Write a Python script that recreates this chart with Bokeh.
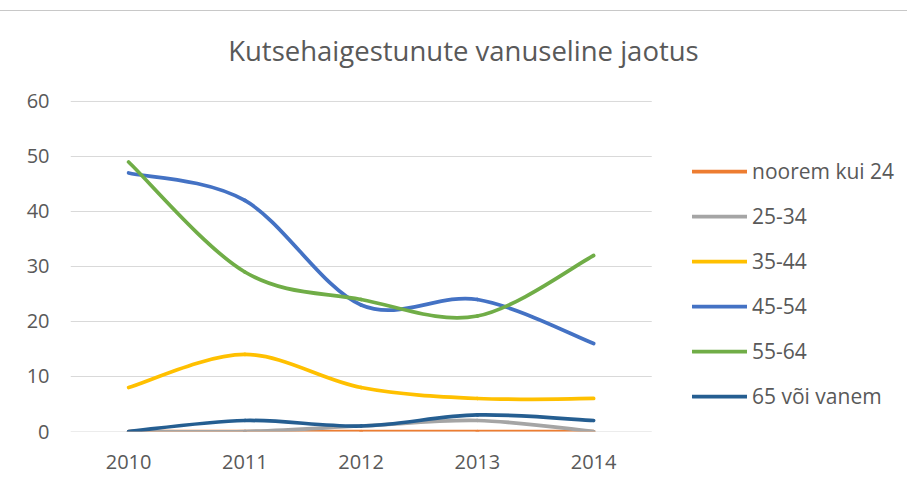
from bokeh.plotting import figure
from bokeh.models import Range1d, FixedTicker, Legend, LegendItem, ColumnDataSource, Label
from bokeh.embed import file_html
from bokeh.resources import INLINE

# ---- data ----
years = [2010, 2011, 2012, 2013, 2014]
series_names = ["noorem kui 24", "25-34", "35-44", "45-54", "55-64", "65 või vanem"]
noorem_kui_24 = [0, 0, 0, 0, 0]
v25_34 = [0, 0, 1, 2, 0]
v35_44 = [8, 14, 8, 6, 6]
v45_54 = [47, 42, 23, 24, 16]
v55_64 = [49, 29, 24, 21, 32]
v65_plus = [0, 2, 1, 3, 2]
series_values = [noorem_kui_24, v25_34, v35_44, v45_54, v55_64, v65_plus]
colors = ["#ED7D31", "#A5A5A5", "#FFC000", "#4472C4", "#70AD47", "#255E91"]
y_ticks = [0, 10, 20, 30, 40, 50, 60]
title_text = "Kutsehaigestunute vanuseline jaotus"

TXT = "#595959"
FONT = "Open Sans"

# frame extends over title/legend area so that annotations are not clipped
p = figure(width=907, height=472, output_backend="svg", toolbar_location=None,
           x_range=Range1d(years[0] - 0.5, 2016.70), y_range=Range1d(0, 76.36),
           min_border_left=70, min_border_right=0, min_border_top=0, min_border_bottom=52)
p.styles = {"margin-top": "10px", "border-top": "1px solid #c8c8c8"}

p.outline_line_color = None
p.xgrid.grid_line_color = None
p.ygrid.grid_line_color = None

# horizontal gridlines over the plot area only
p.segment(x0=[years[0] - 0.5] * len(y_ticks), x1=[years[-1] + 0.5] * len(y_ticks),
          y0=y_ticks, y1=y_ticks, line_color="#D9D9D9", line_width=1)

p.xaxis.ticker = FixedTicker(ticks=years)
p.yaxis.ticker = FixedTicker(ticks=y_ticks)
p.xaxis.major_label_overrides = {y: str(y) for y in years}
for ax in (p.xaxis, p.yaxis):
    ax.major_tick_line_color = None
    ax.minor_tick_line_color = None
    ax.major_tick_in = 0
    ax.major_tick_out = 0
    ax.axis_line_color = None
    ax.major_label_text_font = FONT
    ax.major_label_text_font_size = "20px"
    ax.major_label_text_color = TXT
p.yaxis.major_label_standoff = 21
p.xaxis.major_label_standoff = 23

items = []
n = len(years)
for name, vals, col in zip(series_names, series_values, colors):
    x0, y0, x1, y1, cx0, cy0, cx1, cy1 = [], [], [], [], [], [], [], []
    for i in range(n - 1):
        a = max(i - 1, 0)
        d = min(i + 2, n - 1)
        x0.append(years[i]); y0.append(vals[i])
        x1.append(years[i + 1]); y1.append(vals[i + 1])
        cx0.append(years[i] + (years[i + 1] - years[a]) / 6.0)
        cy0.append(vals[i] + (vals[i + 1] - vals[a]) / 6.0)
        cx1.append(years[i + 1] - (years[d] - years[i]) / 6.0)
        cy1.append(vals[i + 1] - (vals[d] - vals[i]) / 6.0)
    src = ColumnDataSource(dict(x0=x0, y0=y0, x1=x1, y1=y1, cx0=cx0, cy0=cy0, cx1=cx1, cy1=cy1))
    r = p.bezier(x0="x0", y0="y0", x1="x1", y1="y1", cx0="cx0", cy0="cy0", cx1="cx1", cy1="cy1",
                 source=src, line_color=col, line_width=3.75, line_cap="round")
    items.append(LegendItem(label=name, renderers=[r]))

legend = Legend(items=items, location=(622, 21), margin=0, padding=0,
                glyph_width=55, glyph_height=20, label_height=20, spacing=17,
                label_standoff=5, label_text_font=FONT, label_text_font_size="21px",
                label_text_color=TXT, border_line_color=None, background_fill_alpha=0)
p.add_layout(legend, "center")

title = Label(x=2012.88, y=69.27, text=title_text, text_align="center", text_baseline="alphabetic",
              text_font=FONT, text_font_size="27.5px", text_color=TXT)
p.add_layout(title)

open("out.html", "w").write(file_html(p, INLINE))
